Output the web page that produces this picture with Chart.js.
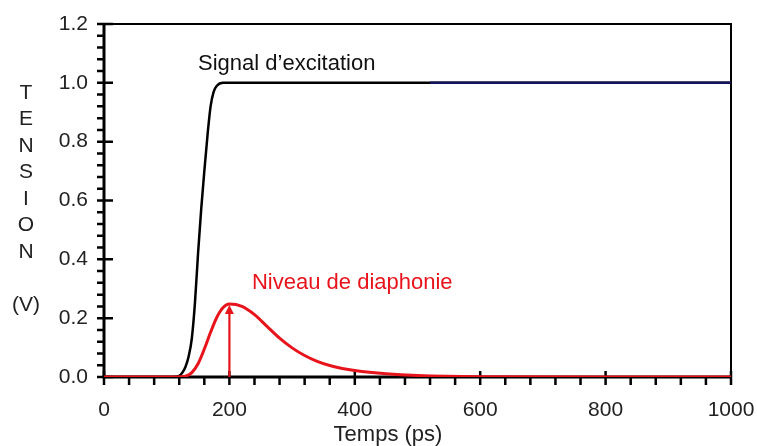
<!DOCTYPE html>
<html>
<head>
<meta charset="utf-8">
<script src="https://cdn.jsdelivr.net/npm/chart.js@4.4.1/dist/chart.umd.min.js"></script>
<style>
  html, body { margin: 0; padding: 0; background: #fff; }
  #wrap { width: 757px; height: 446px; }
</style>
</head>
<body>
<div id="wrap"><canvas id="crossChart" width="757" height="446"></canvas></div>
<script>
// Signal d'excitation (black step)
const signalTime  = [0, 110, 120, 125, 130, 135, 140, 145, 150, 155, 160, 165, 170, 175, 180, 190, 200, 1000];
const signalVolts = [0, 0, 0.004, 0.015, 0.035, 0.07, 0.13, 0.25, 0.42, 0.57, 0.70, 0.82, 0.92, 0.97, 0.99, 1.0, 1.0, 1.0];

// bluish overlay visible on the flat part
const overlayTime  = [520, 1000];
const overlayVolts = [1.0, 1.0];

// Niveau de diaphonie (red pulse)
const crossTime  = [0, 115, 130, 140, 150, 160, 170, 180, 190, 200, 220, 240, 260, 280, 300, 320, 340, 360, 380, 400, 450, 500, 600, 800, 1000];
const crossVolts = [0, 0, 0.003, 0.015, 0.045, 0.095, 0.152, 0.203, 0.236, 0.248, 0.24, 0.212, 0.172, 0.132, 0.099, 0.073, 0.053, 0.039, 0.029, 0.022, 0.011, 0.005, 0.001, 0, 0];

// arrow marking the crosstalk peak: [time, from, to]
const peakArrow = [200, 0, 0.245];

const xTicks = [0, 200, 400, 600, 800, 1000];
const yTicks = [0.0, 0.2, 0.4, 0.6, 0.8, 1.0, 1.2];
const yTitle = ['T', 'E', 'N', 'S', 'I', 'O', 'N', '', '(V)'];

function pts(xs, ys) {
    return xs.map((t, i) => ({ x: t, y: ys[i] }));
}

const RED = '#e8141c';
const FONT = '"Liberation Sans", Arial, sans-serif';

// frame + minor/major ticks
const framePlugin = {
    id: 'frame',
    beforeDatasetsDraw(chart) {
        const { ctx, chartArea: a, scales: { x, y } } = chart;
        ctx.save();
        ctx.strokeStyle = '#000';
        ctx.lineWidth = 2;
        ctx.strokeRect(a.left, a.top, a.right - a.left, a.bottom - a.top);
        ctx.lineWidth = 3;
        ctx.beginPath();
        ctx.moveTo(a.left, a.top);
        ctx.lineTo(a.left, a.bottom);
        ctx.lineTo(a.right, a.bottom);
        ctx.stroke();

        ctx.lineWidth = 2.5;
        ctx.beginPath();
        for (let k = 0; k <= 25; k++) {
            const px = x.getPixelForValue(k * 40);
            const major = k % 5 === 0;
            ctx.moveTo(px, major ? a.bottom - 6 : a.bottom);
            ctx.lineTo(px, a.bottom + 8);
        }
        for (let k = 0; k <= 30; k++) {
            const py = y.getPixelForValue(k * 0.04);
            const major = k % 5 === 0;
            ctx.moveTo(a.left - 7, py);
            ctx.lineTo(major ? a.left + 9 : a.left, py);
        }
        ctx.stroke();
        ctx.restore();
    },
    afterDatasetsDraw(chart) {
        const { ctx, scales: { x, y } } = chart;
        ctx.save();
        // arrow
        const ax = x.getPixelForValue(peakArrow[0]);
        const y0 = y.getPixelForValue(peakArrow[1]);
        const y1 = y.getPixelForValue(peakArrow[2]);
        ctx.strokeStyle = RED;
        ctx.fillStyle = RED;
        ctx.lineWidth = 2.2;
        ctx.beginPath();
        ctx.moveTo(ax, y0);
        ctx.lineTo(ax, y1 + 6);
        ctx.stroke();
        ctx.beginPath();
        ctx.moveTo(ax, y1);
        ctx.lineTo(ax - 4.5, y1 + 9);
        ctx.lineTo(ax + 4.5, y1 + 9);
        ctx.closePath();
        ctx.fill();

        // annotations
        ctx.textBaseline = 'middle';
        ctx.textAlign = 'left';
        ctx.font = '22px ' + FONT;
        ctx.fillStyle = '#111';
        ctx.fillText('Signal d\u2019excitation', x.getPixelForValue(150), y.getPixelForValue(1.065));
        ctx.fillStyle = RED;
        ctx.fillText('Niveau de diaphonie', x.getPixelForValue(236), y.getPixelForValue(0.32));

        // axis titles
        ctx.fillStyle = '#222';
        ctx.textAlign = 'center';
        ctx.font = '22px ' + FONT;
        ctx.fillText('Temps (ps)', 388, 435);
        ctx.font = '21px ' + FONT;
        yTitle.forEach((s, i) => ctx.fillText(s, 26, 93 + i * 26.5));
        ctx.restore();
    }
};

new Chart(document.getElementById('crossChart'), {
    type: 'scatter',
    data: {
        datasets: [
            {
                label: 'Signal d\u2019excitation',
                data: pts(signalTime, signalVolts),
                showLine: true,
                borderColor: '#000',
                borderWidth: 2.5,
                pointRadius: 0,
                cubicInterpolationMode: 'monotone',
                order: 3
            },
            {
                label: 'overlay',
                data: pts(overlayTime, overlayVolts),
                showLine: true,
                borderColor: '#14145e',
                borderWidth: 2.5,
                pointRadius: 0,
                order: 2
            },
            {
                label: 'Niveau de diaphonie',
                data: pts(crossTime, crossVolts),
                showLine: true,
                borderColor: RED,
                borderWidth: 3,
                pointRadius: 0,
                cubicInterpolationMode: 'monotone',
                order: 1
            }
        ]
    },
    options: {
        responsive: false,
        animation: false,
        layout: { padding: { top: 24, right: 26, left: 0, bottom: 0 } },
        plugins: {
            legend: { display: false },
            tooltip: { enabled: false }
        },
        scales: {
            x: {
                type: 'linear',
                min: 0,
                max: 1000,
                afterFit: s => { s.height = 69; s.paddingLeft = 0; s.paddingRight = 0; },
                afterBuildTicks: s => { s.ticks = xTicks.map(v => ({ value: v })); },
                grid: { display: false, drawTicks: false },
                border: { display: false },
                ticks: {
                    padding: 21,
                    color: '#222',
                    font: { family: FONT, size: 21 },
                    callback: v => String(v)
                }
            },
            y: {
                min: 0,
                max: 1.2,
                afterFit: s => { s.width = 104; s.paddingTop = 0; s.paddingBottom = 0; },
                afterBuildTicks: s => { s.ticks = yTicks.map(v => ({ value: v })); },
                grid: { display: false, drawTicks: false },
                border: { display: false },
                ticks: {
                    padding: 16,
                    color: '#222',
                    font: { family: FONT, size: 21 },
                    callback: v => v.toFixed(1)
                }
            }
        }
    },
    plugins: [framePlugin]
});
</script>
</body>
</html>
